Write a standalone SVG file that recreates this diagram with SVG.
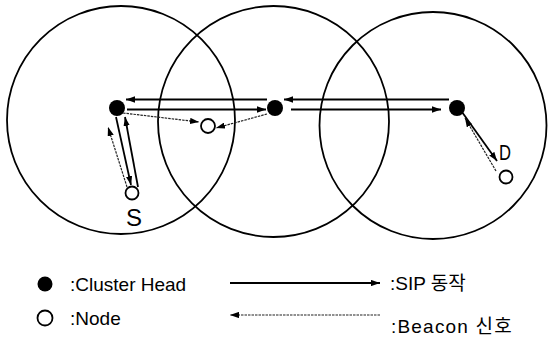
<svg xmlns="http://www.w3.org/2000/svg" width="550" height="337" viewBox="0 0 550 337">
<defs>
<marker id="ah" markerUnits="userSpaceOnUse" viewBox="0 0 10 7" markerWidth="9" markerHeight="6.3" refX="10" refY="3.5" orient="auto"><path d="M0,0 L10,3.5 L0,7 z" fill="#000"/></marker>
<style>
.range{fill:none;stroke:#000;stroke-width:1.8}
.head{fill:#000}
.node{fill:#fff;stroke:#000;stroke-width:1.8}
.sip{fill:none;stroke:#000;stroke-width:1.8;marker-end:url(#ah)}
.beacon{fill:none;stroke:#222;stroke-width:1.2;stroke-dasharray:2.5 1;marker-end:url(#ah)}
.lbl{font-family:"Liberation Sans",Arial,"Noto Sans CJK KR",sans-serif;fill:#000}
</style>
</defs>
<rect width="550" height="337" fill="#fff"/>
<g id="ranges">
<circle class="range" cx="121" cy="120" r="114"/>
<circle class="range" cx="273.5" cy="121.5" r="115.5"/>
<circle class="range" cx="433" cy="125.5" r="113.5"/>
</g>
<g id="connectors">
<line class="sip" x1="127" y1="109.5" x2="266" y2="109.5"/>
<line class="sip" x1="267" y1="99.5" x2="126" y2="99.5"/>
<line class="sip" x1="449" y1="99.5" x2="284" y2="99.5"/>
<line class="sip" x1="291" y1="109.5" x2="441" y2="109.5"/>
<line class="beacon" x1="123" y1="113" x2="199" y2="122"/>
<line class="beacon" x1="267" y1="114" x2="216" y2="128"/>
<line class="beacon" x1="127" y1="187" x2="108" y2="127"/>
<line class="sip" x1="116" y1="117" x2="131" y2="185"/>
<line class="sip" x1="138" y1="187" x2="125" y2="117"/>
<line class="sip" x1="462" y1="112" x2="497" y2="161"/>
<line class="beacon" x1="496" y1="171" x2="465" y2="118"/>
</g>
<g id="ch1"><circle class="head" cx="117" cy="108" r="8"/></g>
<g id="ch2"><circle class="head" cx="275" cy="108" r="8"/></g>
<g id="ch3"><circle class="head" cx="457" cy="108" r="8"/></g>
<g id="n1"><circle class="node" cx="208" cy="126" r="7"/></g>
<g id="nS"><circle class="node" cx="132" cy="193" r="6.5"/><text class="lbl" x="134" y="226" font-size="24" text-anchor="middle">S</text></g>
<g id="nD"><circle class="node" cx="506" cy="177" r="6.5"/><text class="lbl" x="499" y="160" font-size="22" textLength="12" lengthAdjust="spacingAndGlyphs">D</text></g>
<g id="legend">
<circle class="head" cx="45" cy="284" r="7.5"/>
<text class="lbl" x="70" y="291" font-size="19">:Cluster Head</text>
<circle class="node" cx="45" cy="318" r="7.5"/>
<text class="lbl" x="70" y="325" font-size="19">:Node</text>
<line class="sip" x1="230" y1="283" x2="380" y2="283"/>
<text class="lbl" x="390" y="290" font-size="19">:SIP 동작</text>
<line class="beacon" x1="380" y1="315" x2="230" y2="315"/>
<text class="lbl" x="391" y="333" font-size="19" letter-spacing="1.2">:Beacon 신호</text>
</g>
</svg>
